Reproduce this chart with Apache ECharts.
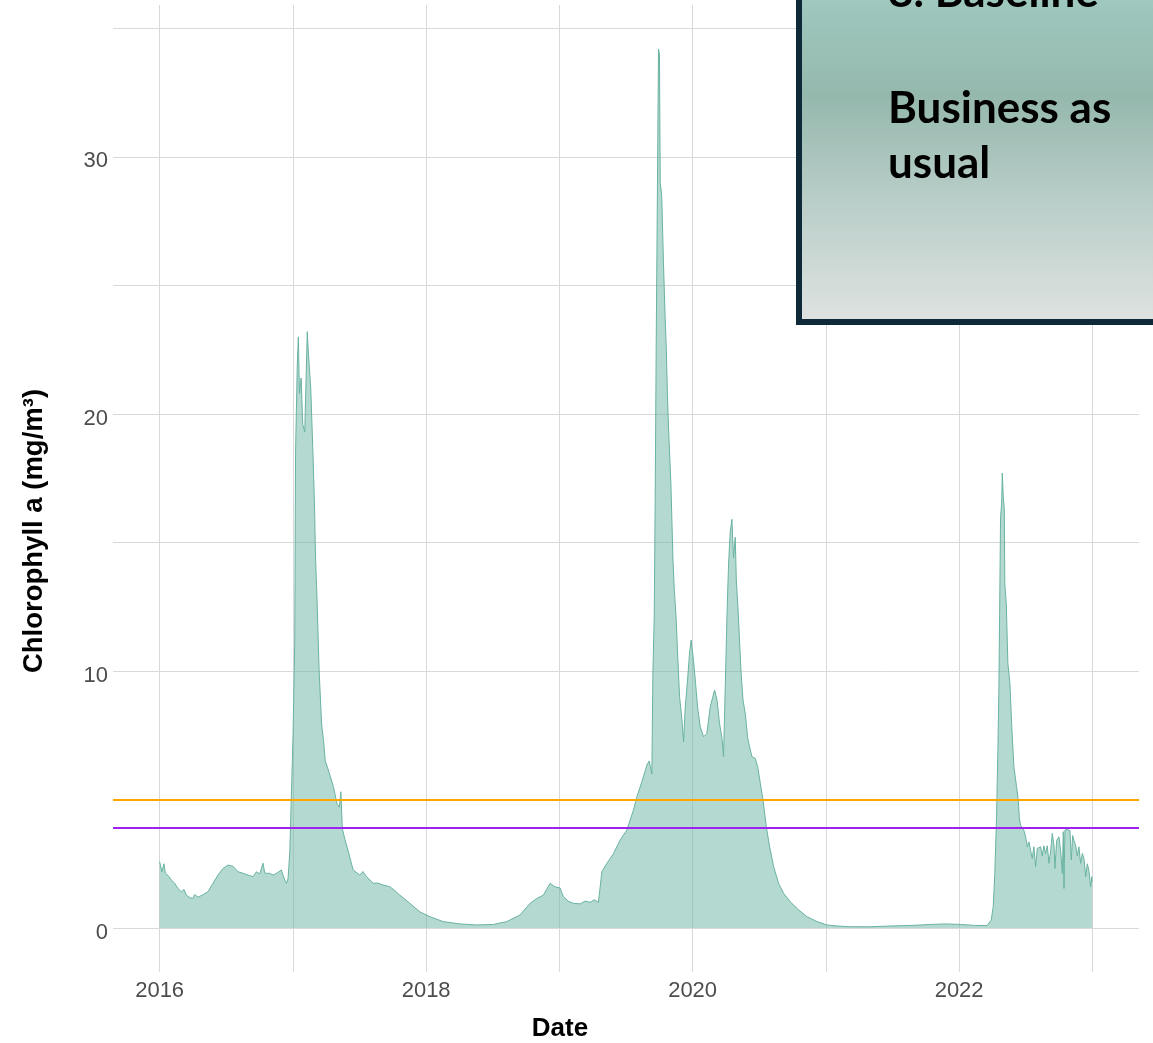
<!DOCTYPE html>
<html><head><meta charset="utf-8">
<script src="https://cdn.jsdelivr.net/npm/echarts@6/dist/echarts.min.js"></script>
<style>html,body{margin:0;padding:0;background:#fff}#c{width:1153px;height:1043px}</style>
</head><body><div id="c"></div>
<script>
// decimal years
const dates = [
2016.000,2016.017,2016.032,2016.043,2016.062,2016.088,2016.113,2016.137,2016.163,2016.183,
2016.201,2016.225,2016.250,2016.263,2016.288,2016.325,2016.363,2016.400,2016.438,2016.476,
2016.513,2016.551,2016.588,2016.626,2016.663,2016.701,2016.727,2016.751,2016.776,2016.789,
2016.826,2016.851,2016.877,2016.914,2016.926,2016.939,2016.952,2016.964,2016.977,2017.001,
2017.014,2017.020,2017.033,2017.041,2017.049,2017.062,2017.074,2017.089,2017.108,2017.116,
2017.134,2017.149,2017.162,2017.170,2017.180,2017.197,2017.216,2017.229,2017.243,2017.269,
2017.304,2017.331,2017.349,2017.360,2017.371,2017.390,2017.417,2017.452,2017.503,2017.525,
2017.553,2017.603,2017.638,2017.678,2017.728,2017.766,2017.803,2017.878,2017.953,2018.029,
2018.128,2018.254,2018.379,2018.504,2018.605,2018.705,2018.780,2018.830,2018.880,2018.930,
2018.968,2019.005,2019.030,2019.065,2019.105,2019.156,2019.193,2019.231,2019.261,2019.293,
2019.319,2019.356,2019.406,2019.456,2019.506,2019.556,2019.582,2019.619,2019.657,2019.674,
2019.694,2019.702,2019.712,2019.719,2019.727,2019.736,2019.744,2019.751,2019.757,2019.768,
2019.781,2019.794,2019.802,2019.811,2019.822,2019.837,2019.852,2019.862,2019.877,2019.887,
2019.902,2019.920,2019.932,2019.945,2019.962,2019.977,2019.989,2020.007,2020.020,2020.037,
2020.057,2020.082,2020.107,2020.132,2020.165,2020.183,2020.202,2020.220,2020.232,2020.245,
2020.258,2020.270,2020.282,2020.295,2020.307,2020.320,2020.328,2020.340,2020.352,2020.363,
2020.378,2020.395,2020.412,2020.427,2020.445,2020.470,2020.488,2020.508,2020.528,2020.553,
2020.578,2020.608,2020.645,2020.683,2020.733,2020.796,2020.859,2020.934,2021.009,2021.084,
2021.184,2021.334,2021.485,2021.635,2021.785,2021.898,2022.011,2022.123,2022.211,2022.241,
2022.256,2022.268,2022.281,2022.291,2022.299,2022.304,2022.311,2022.319,2022.324,2022.331,
2022.339,2022.343,2022.354,2022.366,2022.381,2022.394,2022.411,2022.431,2022.444,2022.452,
2022.461,2022.486,2022.499,2022.512,2022.524,2022.536,2022.549,2022.561,2022.574,2022.587,
2022.612,2022.624,2022.636,2022.649,2022.662,2022.674,2022.687,2022.699,2022.712,2022.719,
2022.732,2022.749,2022.762,2022.775,2022.782,2022.787,2022.794,2022.812,2022.832,2022.842,
2022.852,2022.862,2022.875,2022.887,2022.899,2022.912,2022.925,2022.937,2022.950,2022.962,
2022.975,2022.987,2022.995,2022.999
];
// chlorophyll a (mg/m3)
const chl = [
2.58,2.19,2.50,2.13,2.05,1.87,1.74,1.54,1.41,1.50,
1.28,1.19,1.15,1.30,1.20,1.30,1.41,1.74,2.06,2.32,
2.45,2.40,2.19,2.13,2.06,2.00,2.19,2.10,2.52,2.13,
2.13,2.06,2.13,2.26,2.06,1.87,1.74,1.93,2.97,7.48,
11.1,18.5,21.9,23.0,20.8,21.4,19.6,19.3,23.2,22.4,
21.0,18.7,16.5,14.4,13.0,10.0,7.90,7.35,6.50,6.10,
5.50,4.84,4.70,5.30,3.87,3.46,2.96,2.26,2.06,2.20,
2.00,1.74,1.75,1.67,1.61,1.45,1.28,0.96,0.63,0.44,
0.25,0.16,0.12,0.14,0.25,0.51,0.96,1.15,1.28,1.74,
1.60,1.56,1.22,1.05,0.96,0.94,1.05,1.00,1.10,1.00,
2.19,2.51,2.90,3.42,3.81,4.59,5.11,5.69,6.34,6.50,
6.00,10.0,12.1,16.7,22.9,28.8,34.2,34.0,29.0,28.5,
25.9,23.7,22.6,20.7,19.1,17.3,14.4,13.2,12.0,10.7,
9.00,8.10,7.25,8.60,9.65,10.7,11.2,10.4,9.65,8.60,
7.83,7.44,7.57,8.60,9.26,8.87,7.96,7.40,6.67,9.39,
12.2,14.2,15.4,15.9,14.4,15.2,13.5,12.5,11.2,10.0,
8.87,8.35,7.44,7.05,6.67,6.60,6.28,5.63,4.98,3.94,
3.16,2.39,1.74,1.35,1.02,0.70,0.44,0.25,0.12,0.08,
0.05,0.05,0.08,0.10,0.14,0.16,0.14,0.10,0.10,0.31,
0.83,2.13,4.33,6.93,9.52,12.2,16.0,16.5,17.7,16.8,
16.3,13.4,12.6,10.3,9.52,7.96,6.28,5.50,4.98,4.30,
4.00,3.80,3.55,3.16,3.35,3.03,2.71,3.16,2.39,3.10,
3.16,2.80,3.20,2.90,3.20,2.52,3.00,3.68,3.20,2.32,
3.40,3.55,3.00,2.13,3.75,1.54,3.81,3.84,3.79,2.65,
3.60,3.40,3.20,2.80,3.16,2.52,2.90,2.70,2.00,2.50,
2.20,1.60,2.00,1.80
];
const thresholds = [5.0, 3.9];
const xGridYears = [2016,2017,2018,2019,2020,2021,2022,2023];
const xLabelYears = [2016,2018,2020,2022];
const yGridValues = [0,5,10,15,20,25,30,35];
const yLabelValues = [0,10,20,30];
const titleLines = ['8. Baseline', 'Business as', 'usual'];

const chart = echarts.init(document.getElementById('c'), null, {renderer:'canvas'});
const gridColor = '#d9d9d9';
const tickFont = 'Liberation Sans, Arial, sans-serif';
const option = {
  animation: false,
  backgroundColor: '#ffffff',
  grid: {left:113, right:14, top:5, bottom:71, containLabel:false},
  xAxis: {
    type:'value', min:2015.65, max:2023.35,
    axisLine:{show:false},
    axisTick:{show:false, customValues:xGridYears},
    axisLabel:{customValues:xLabelYears, formatter:v=>String(Math.round(v)), color:'#4d4d4d', fontSize:22, fontFamily:tickFont, margin:8},
    splitLine:{show:true, lineStyle:{color:gridColor, width:1}}
  },
  yAxis: {
    type:'value', min:-1.71, max:35.91,
    axisLine:{show:false},
    axisTick:{show:false, customValues:yGridValues},
    axisLabel:{customValues:yLabelValues, formatter:v=>'{t|' + Math.round(v) + '}', margin:5,
      rich:{t:{color:'#4d4d4d', fontSize:22, fontFamily:tickFont, padding:[9,0,0,0]}}},
    splitLine:{show:true, lineStyle:{color:gridColor, width:1}}
  },
  series: [{
    type:'line',
    data: dates.map((d,i)=>[d, chl[i]]),
    symbol:'none', showSymbol:false,
    lineStyle:{color:'#69b3a2', width:1},
    areaStyle:{color:'#69b3a2', opacity:0.5},
    markLine:{
      silent:true, symbol:'none', label:{show:false}, animation:false,
      data:[
        {yAxis:thresholds[0], lineStyle:{color:'#ffa500', width:2, type:'solid'}},
        {yAxis:thresholds[1], lineStyle:{color:'#a020f0', width:2, type:'solid'}}
      ]
    }
  }],
  graphic: [
    {type:'rect', z:100, shape:{x:799, y:-60, width:400, height:382},
     style:{fill:new echarts.graphic.LinearGradient(0,0,0,1,[
       {offset:0,color:'#a4ccc2'},{offset:0.16,color:'#9fc8be'},{offset:0.41,color:'#95b8ad'},{offset:0.7,color:'#bccfca'},{offset:1,color:'#dfe3e1'}]),
       stroke:'#0e2a38', lineWidth:6}},
    {type:'text', z:101, x:888, y:-7, style:{text:titleLines[0], font:'bold 44px Lato, sans-serif', fill:'#000', verticalAlign:'middle'}},
    {type:'text', z:101, x:888, y:109, style:{text:titleLines[1], font:'bold 44px Lato, sans-serif', fill:'#000', verticalAlign:'middle'}},
    {type:'text', z:101, x:888, y:164, style:{text:titleLines[2], font:'bold 44px Lato, sans-serif', fill:'#000', verticalAlign:'middle'}},
    {type:'text', z:101, x:560, y:1029, style:{text:'Date', font:'bold 26px "Liberation Sans", Arial, sans-serif', fill:'#000', align:'center', verticalAlign:'middle'}},
    {type:'text', z:101, x:34, y:531, rotation:Math.PI/2, style:{text:'Chlorophyll a (mg/m³)', font:'bold 27.5px "Liberation Sans", Arial, sans-serif', fill:'#000', align:'center', verticalAlign:'middle'}}
  ]
};
chart.setOption(option);
</script></body></html>
